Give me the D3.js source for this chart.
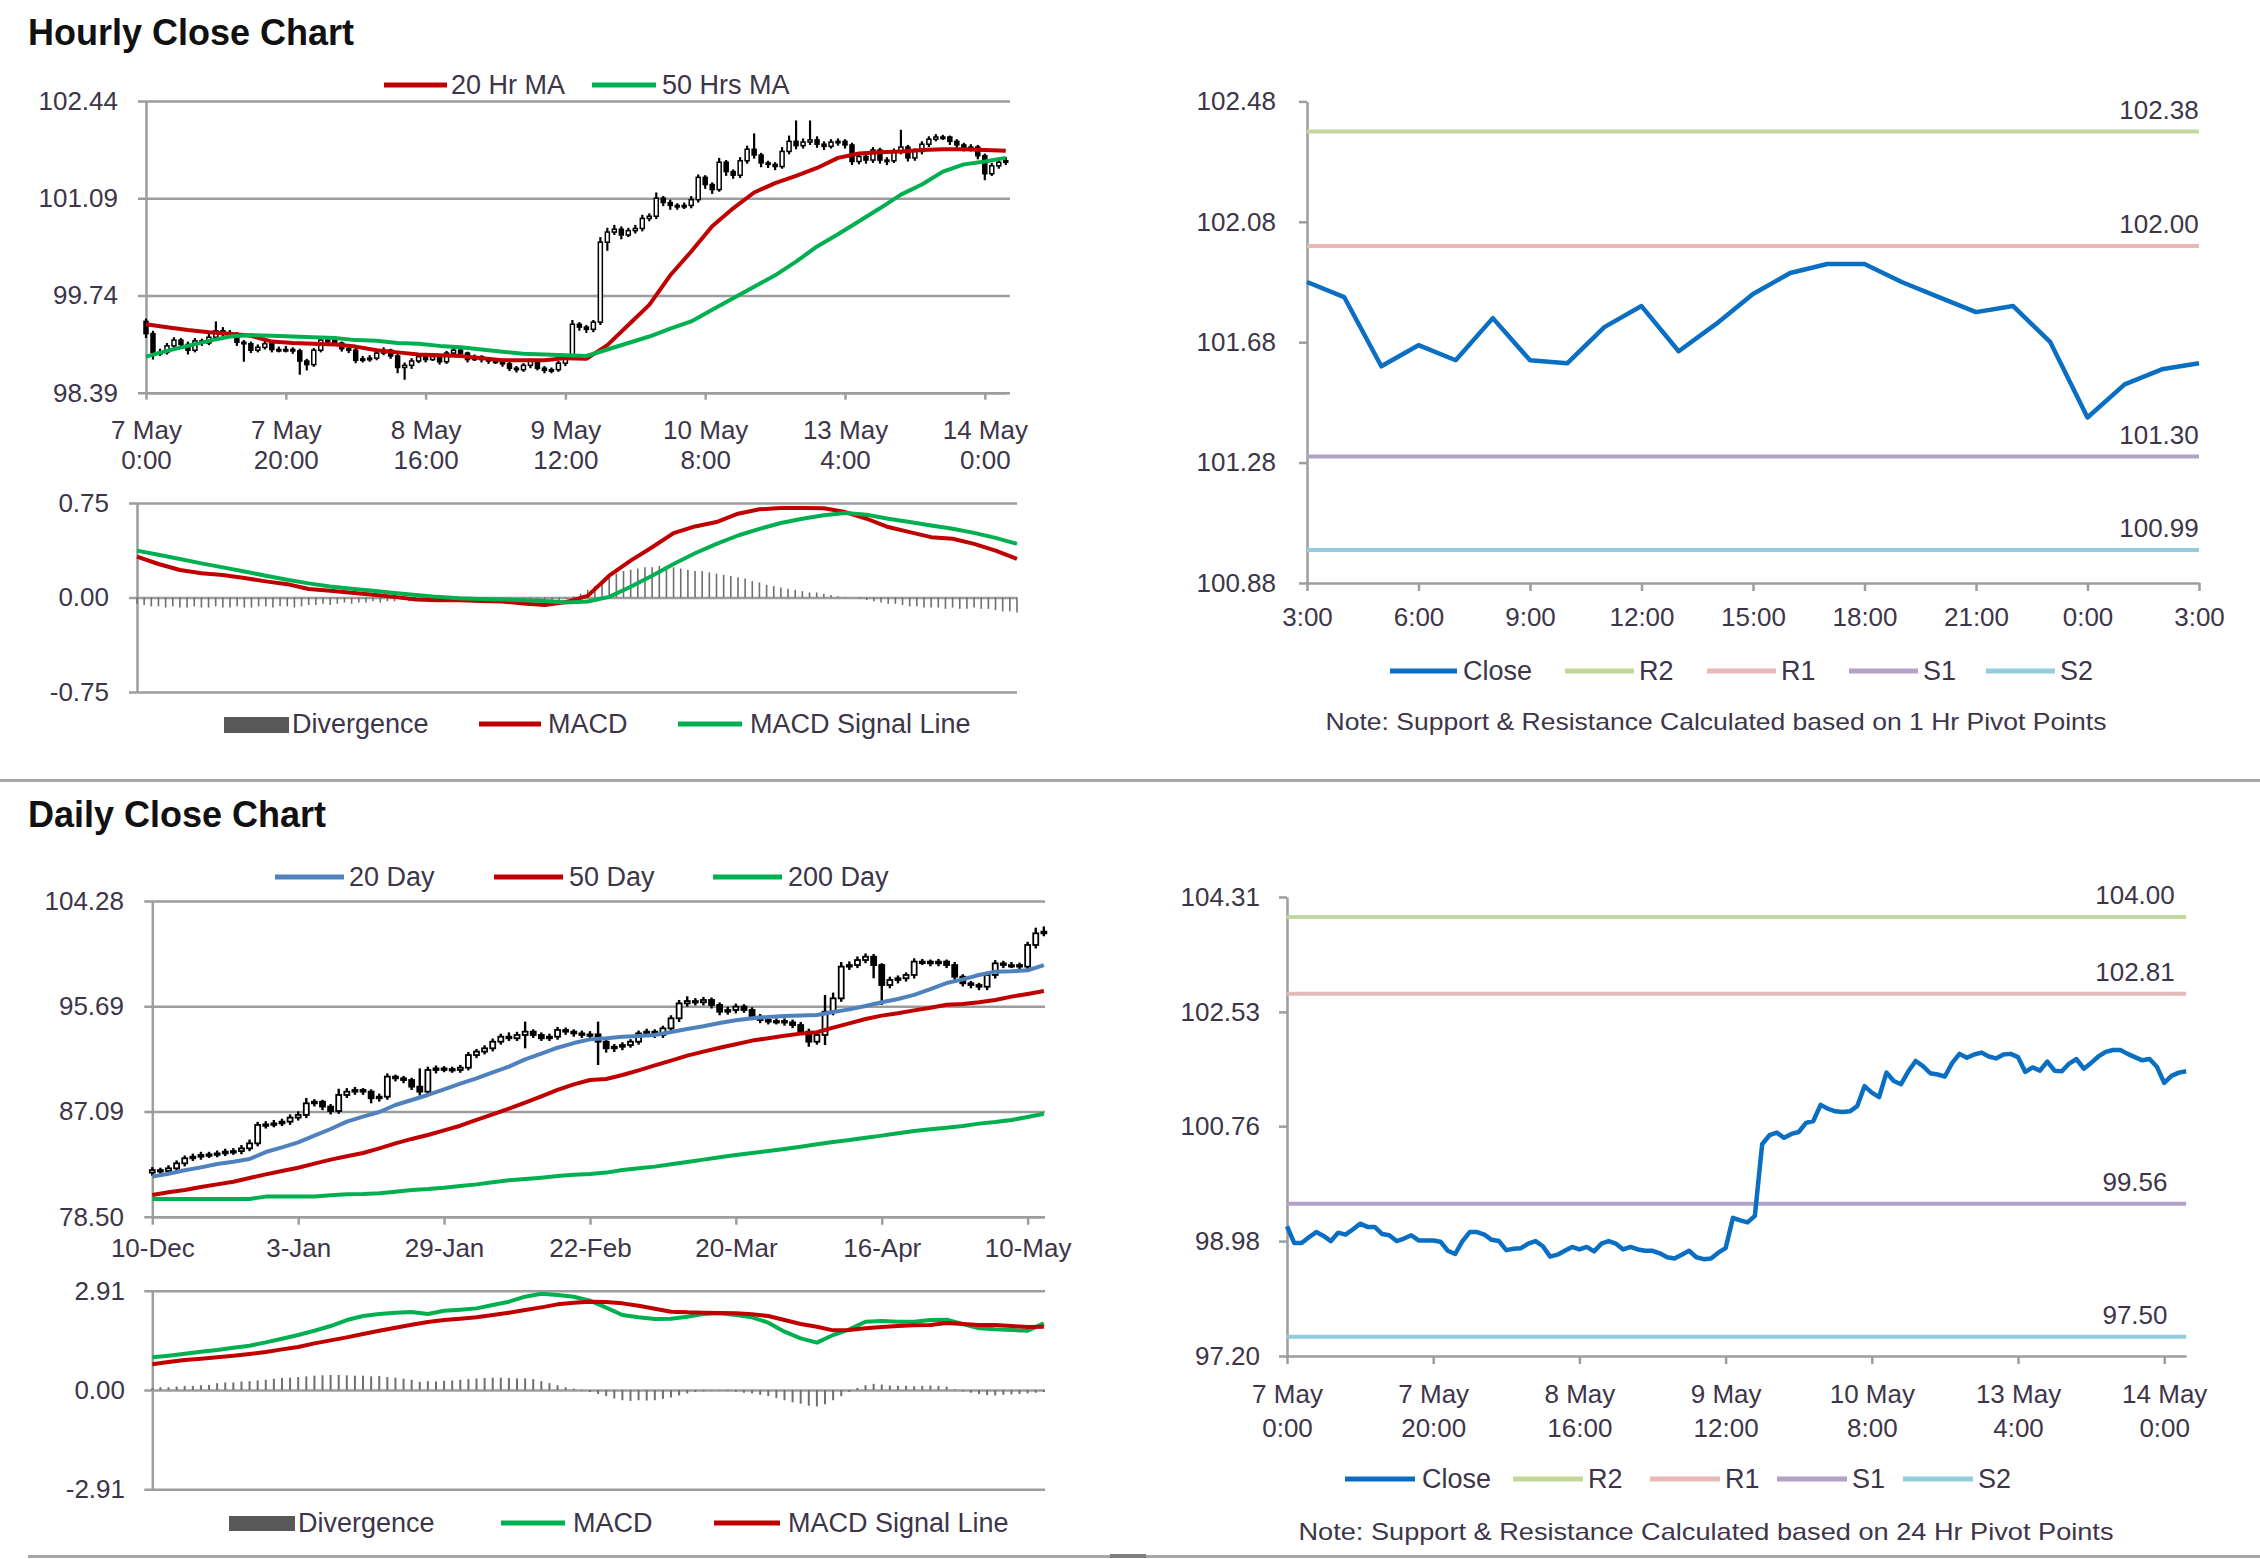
<!DOCTYPE html>
<html><head><meta charset="utf-8"><title>Hourly and Daily Close Charts</title>
<script src="https://cdnjs.cloudflare.com/ajax/libs/d3/7.8.5/d3.min.js"></script>
<style>html,body{margin:0;padding:0;background:#fff}svg{display:block}</style>
</head><body><svg id="c" width="2260" height="1559"></svg>
<script>
// ---------------- DATA ----------------
// Hourly bars: 7 May 0:00 (index 0) ... 14 May 3:00 (index 123)
const hourlyTickIdx = [0,20,40,60,80,100,120];
const hourlyTickDay = ["7 May","7 May","8 May","9 May","10 May","13 May","14 May"];
const hourlyTickTime = ["0:00","20:00","16:00","12:00","8:00","4:00","0:00"];
const hourlyYTicks = [98.39,99.74,101.09,102.44];
const hourlyMacdTicks = [-0.75,0,0.75];

const hourlyClose = [
99.21,98.95,98.95,99.04,99.12,99.06,98.98,99.11,99.08,99.16,
99.25,99.20,99.20,99.09,99.07,98.98,99.02,99.07,98.99,98.99,
98.99,98.97,98.83,98.78,98.98,99.12,99.12,99.08,99.00,98.98,
98.84,98.86,98.87,98.94,98.98,98.90,98.74,98.77,98.83,98.89,
98.85,98.89,98.82,98.94,98.98,98.94,98.85,98.89,98.85,98.83,
98.83,98.79,98.73,98.71,98.77,98.83,98.73,98.70,98.71,98.80,
98.87,99.34,99.30,99.27,99.37,100.48,100.62,100.66,100.58,100.64,
100.67,100.81,100.84,101.09,101.03,100.99,100.98,100.99,101.07,101.38,
101.28,101.21,101.59,101.46,101.41,101.61,101.77,101.69,101.58,101.56,
101.53,101.74,101.88,101.82,101.87,101.90,101.84,101.81,101.87,101.88,
101.83,101.60,101.67,101.62,101.76,101.62,101.61,101.73,101.80,101.65,
101.74,101.84,101.91,101.94,101.94,101.88,101.83,101.78,101.80,101.68,
101.43,101.54,101.59,101.61];
const hourlyOpen = [
99.38,99.21,98.95,98.95,99.04,99.12,99.06,98.98,99.11,99.08,
99.16,99.25,99.20,99.20,99.09,99.07,98.98,99.02,99.07,98.99,
98.99,98.99,98.97,98.83,98.78,98.98,99.12,99.12,99.08,99.00,
98.98,98.84,98.86,98.87,98.94,98.98,98.90,98.74,98.77,98.83,
98.89,98.85,98.89,98.82,98.94,98.98,98.94,98.85,98.89,98.85,
98.83,98.83,98.79,98.73,98.71,98.77,98.83,98.73,98.70,98.71,
98.80,98.87,99.34,99.30,99.27,99.37,100.48,100.62,100.66,100.58,
100.64,100.67,100.81,100.84,101.09,101.03,100.99,100.98,100.99,101.07,
101.38,101.28,101.21,101.59,101.46,101.41,101.61,101.77,101.69,101.58,
101.56,101.53,101.74,101.88,101.82,101.87,101.90,101.84,101.81,101.87,
101.88,101.83,101.60,101.67,101.62,101.76,101.62,101.61,101.73,101.80,
101.65,101.74,101.84,101.91,101.94,101.94,101.88,101.83,101.78,101.80,
101.68,101.43,101.54,101.59];
const hourlyHigh = [
99.42,99.25,99.00,99.08,99.16,99.15,99.10,99.15,99.14,99.24,
99.38,99.30,99.26,99.23,99.12,99.10,99.06,99.11,99.10,99.03,
99.04,99.02,99.00,98.86,99.01,99.16,99.16,99.14,99.10,99.04,
99.01,98.90,98.91,98.97,99.02,99.00,98.93,98.81,98.87,98.93,
98.92,98.93,98.91,98.97,99.03,99.00,98.96,98.92,98.91,98.88,
98.86,98.85,98.82,98.76,98.80,98.86,98.85,98.76,98.74,98.83,
98.90,99.40,99.37,99.33,99.40,100.55,100.68,100.72,100.70,100.68,
100.72,100.86,100.88,101.17,101.12,101.07,101.02,101.03,101.12,101.42,
101.41,101.31,101.65,101.62,101.49,101.66,101.82,101.99,101.72,101.61,
101.59,101.80,101.96,102.17,101.92,102.17,101.95,101.88,101.91,101.92,
101.91,101.86,101.72,101.70,101.80,101.79,101.66,101.78,102.04,101.83,
101.78,101.88,101.95,101.98,101.97,101.96,101.91,101.86,101.84,101.83,
101.71,101.58,101.63,101.66];
const hourlyLow = [
99.15,98.85,98.90,98.92,99.00,99.02,98.92,98.95,99.04,99.05,
99.13,99.16,99.15,99.04,98.82,98.94,98.95,98.99,98.95,98.95,
98.95,98.93,98.64,98.70,98.75,98.95,99.08,99.05,98.96,98.94,
98.80,98.81,98.82,98.84,98.91,98.86,98.66,98.57,98.72,98.80,
98.81,98.83,98.78,98.79,98.91,98.90,98.81,98.83,98.81,98.79,
98.79,98.75,98.69,98.67,98.68,98.73,98.70,98.66,98.66,98.68,
98.76,98.85,99.25,99.22,99.23,99.33,100.36,100.58,100.52,100.55,
100.60,100.63,100.77,100.80,100.98,100.93,100.93,100.94,100.95,101.03,
101.22,101.15,101.18,101.40,101.36,101.37,101.57,101.64,101.52,101.51,
101.48,101.50,101.70,101.77,101.78,101.83,101.79,101.76,101.78,101.82,
101.78,101.55,101.56,101.57,101.58,101.57,101.55,101.58,101.70,101.60,
101.61,101.70,101.80,101.88,101.90,101.83,101.79,101.74,101.74,101.63,
101.34,101.40,101.50,101.55];
// moving averages and MACD read every 3rd hour (index 0,3,...,123)
const hourlyStep = 3;
const hourlyMA20 = [
99.34,99.30,99.26,99.23,99.21,99.18,99.10,99.08,99.07,99.06,
99.03,98.98,98.95,98.92,98.91,98.90,98.87,98.84,98.84,98.84,
98.87,98.86,99.05,99.33,99.61,100.02,100.35,100.70,100.95,101.17,
101.30,101.40,101.51,101.65,101.71,101.73,101.74,101.76,101.77,101.77,
101.76,101.75];
const hourlyMA50 = [
98.89,98.97,99.04,99.11,99.17,99.19,99.18,99.17,99.16,99.15,
99.12,99.11,99.08,99.07,99.04,99.02,98.99,98.96,98.93,98.92,
98.91,98.90,98.99,99.08,99.17,99.28,99.38,99.54,99.70,99.86,
100.02,100.21,100.42,100.59,100.77,100.95,101.14,101.28,101.46,101.56,
101.60,101.65];
const hourlyMacd = [
0.324,0.266,0.218,0.192,0.178,0.154,0.128,0.106,0.067,0.053,
0.037,0.021,0.005,-0.016,-0.021,-0.021,-0.027,-0.032,-0.048,-0.060,
-0.035,0.013,0.173,0.293,0.399,0.511,0.564,0.599,0.665,0.700,
0.710,0.710,0.708,0.678,0.625,0.559,0.519,0.479,0.466,0.426,
0.372,0.306];
const hourlySignal = [
0.372,0.340,0.306,0.271,0.239,0.207,0.173,0.141,0.112,0.088,
0.069,0.053,0.035,0.019,0.005,-0.005,-0.011,-0.016,-0.021,-0.027,
-0.040,-0.032,0.005,0.085,0.173,0.266,0.351,0.426,0.492,0.545,
0.591,0.625,0.652,0.670,0.657,0.625,0.599,0.572,0.545,0.513,
0.473,0.426];
const hourlyDivergence = [
-0.05,-0.06,-0.07,-0.07,-0.08,-0.07,-0.08,-0.08,-0.07,-0.08,
-0.08,-0.07,-0.08,-0.08,-0.07,-0.08,-0.08,-0.07,-0.07,-0.08,
-0.07,-0.07,-0.08,-0.07,-0.06,-0.06,-0.05,-0.06,-0.05,-0.04,
-0.05,-0.04,-0.04,-0.03,-0.04,-0.03,-0.03,-0.02,-0.03,-0.02,
-0.02,-0.02,-0.01,-0.02,-0.02,-0.01,-0.02,-0.02,-0.01,-0.02,
-0.02,-0.02,-0.03,-0.02,-0.03,-0.03,-0.03,-0.04,-0.03,-0.02,
-0.01,0.01,0.03,0.06,0.09,0.13,0.16,0.19,0.21,0.22,
0.23,0.24,0.24,0.25,0.24,0.24,0.23,0.22,0.21,0.21,
0.20,0.19,0.18,0.17,0.16,0.15,0.13,0.12,0.10,0.09,
0.08,0.07,0.06,0.05,0.04,0.04,0.03,0.02,0.01,0.005,
0.00,-0.01,-0.02,-0.03,-0.04,-0.05,-0.05,-0.06,-0.07,-0.07,
-0.08,-0.08,-0.08,-0.09,-0.08,-0.09,-0.09,-0.08,-0.09,-0.09,
-0.10,-0.11,-0.11,-0.12];

// last 24 hours pivot chart (13 May 3:00 .. 14 May 3:00 = hourly index 99..123)
const pivotHourStart = 99;
const pivotHourTicks = ["3:00","6:00","9:00","12:00","15:00","18:00","21:00","0:00","3:00"];
const pivotHourYTicks = [100.88,101.28,101.68,102.08,102.48];
const pivotNames = ["R2","R1","S1","S2"];
const pivotHourValues = [102.38,102.00,101.30,100.99];
const pivotDayValues = [104.00,102.81,99.56,97.50];
const pivotDayYTicks = [97.20,98.98,100.76,102.53,104.31];

// Daily bars: 10-Dec (index 0) ... (index 110)
const dailyTickIdx = [0,18,36,54,72,90,108];
const dailyTickLabels = ["10-Dec","3-Jan","29-Jan","22-Feb","20-Mar","16-Apr","10-May"];
const dailyYTicks = [78.50,87.09,95.69,104.28];
const dailyMacdTicks = [-2.91,0,2.91];
const dailyClose = [
82.31,82.23,82.45,82.86,83.27,83.40,83.54,83.59,83.67,83.81,
83.86,84.08,84.49,85.99,86.04,86.12,86.26,86.59,86.81,87.76,
87.89,87.49,87.13,88.44,88.71,88.85,88.71,88.17,88.30,89.94,
89.80,89.66,89.12,88.71,90.48,90.61,90.56,90.48,90.67,91.70,
91.98,92.25,92.79,93.20,93.07,93.34,93.61,93.34,93.07,93.20,
93.75,93.61,93.47,93.34,93.39,92.79,92.25,92.38,92.52,92.79,
93.47,93.61,93.34,93.88,94.70,95.92,96.11,96.01,96.20,95.79,
95.24,95.38,95.65,95.38,94.83,94.56,94.43,94.48,94.37,94.15,
93.61,92.79,93.34,95.24,96.33,98.92,99.05,99.46,99.73,99.05,
97.42,97.83,97.97,98.24,99.33,99.33,99.19,99.33,99.05,98.10,
97.56,97.42,97.28,98.24,99.19,99.05,99.05,98.92,100.69,101.64,
101.78];
const dailyOpen = [
82.10,82.31,82.23,82.45,82.86,83.27,83.40,83.54,83.59,83.67,
83.81,83.86,84.08,84.49,85.99,86.04,86.12,86.26,86.59,86.81,
87.76,87.89,87.49,87.13,88.44,88.71,88.85,88.71,88.17,88.30,
89.94,89.80,89.66,89.12,88.71,90.48,90.61,90.56,90.48,90.67,
91.70,91.98,92.25,92.79,93.20,93.07,93.34,93.61,93.34,93.07,
93.20,93.75,93.61,93.47,93.34,93.39,92.79,92.25,92.38,92.52,
92.79,93.47,93.61,93.34,93.88,94.70,95.92,96.11,96.01,96.20,
95.79,95.24,95.38,95.65,95.38,94.83,94.56,94.43,94.48,94.37,
94.15,93.61,92.79,93.34,95.24,96.33,98.92,99.05,99.46,99.73,
99.05,97.42,97.83,97.97,98.24,99.33,99.33,99.19,99.33,99.05,
98.10,97.56,97.42,97.28,98.24,99.19,99.05,99.05,98.92,100.69,
101.64];
const dailyHigh = [
82.55,82.50,82.70,83.10,83.50,83.65,83.80,83.80,83.90,84.05,
84.10,84.35,84.80,86.25,86.30,86.40,86.50,86.85,87.10,88.20,
88.10,88.05,87.70,88.95,89.00,89.10,89.00,88.90,88.55,90.20,
90.10,90.00,89.85,90.61,90.75,90.85,90.80,90.75,90.90,91.95,
92.20,92.50,93.05,93.45,93.55,93.60,94.43,93.80,93.55,93.45,
94.00,93.95,93.80,93.70,93.65,94.43,93.00,92.60,92.75,93.00,
93.70,93.85,93.80,94.10,94.95,96.20,96.50,96.35,96.45,96.40,
96.00,95.65,95.90,95.85,95.60,95.05,94.80,94.70,94.70,94.60,
94.40,93.85,93.60,96.60,96.80,99.30,99.35,99.75,100.00,99.95,
99.20,98.10,98.20,98.45,99.60,99.55,99.50,99.55,99.50,99.30,
98.30,97.75,97.60,98.50,99.45,99.40,99.30,99.25,100.95,102.10,
102.20];
const dailyLow = [
81.85,81.95,82.00,82.20,82.60,83.05,83.15,83.30,83.35,83.45,
83.55,83.60,83.85,84.25,85.70,85.80,85.90,86.00,86.35,86.55,
87.50,87.20,86.85,86.90,88.20,88.45,88.45,87.76,87.90,88.05,
89.55,89.40,88.85,88.40,88.50,90.20,90.30,90.25,90.25,90.45,
91.45,91.75,92.00,92.55,92.85,92.85,92.25,93.10,92.85,92.85,
92.95,93.35,93.20,93.10,93.10,90.89,91.90,91.95,92.10,92.30,
92.55,93.20,93.10,93.10,93.60,94.40,95.65,95.75,95.75,95.50,
94.95,95.00,95.10,95.15,94.55,94.30,94.20,94.20,94.10,93.90,
93.35,92.38,92.55,92.52,94.95,96.05,98.65,98.80,99.20,97.97,
95.80,97.15,97.55,97.70,97.95,99.05,98.95,98.95,98.80,97.85,
97.30,97.15,97.00,97.00,97.95,98.80,98.80,98.65,98.65,100.40,
101.40];
// moving averages and MACD read every 2nd day (index 0,2,...,110)
const dailyStep = 2;
const dailyMA20 = [
81.77,82.01,82.29,82.53,82.80,82.99,83.21,83.78,84.16,84.57,
85.12,85.66,86.26,86.67,87.05,87.62,88.03,88.44,88.90,89.36,
89.80,90.29,90.75,91.35,91.81,92.30,92.68,92.98,93.07,93.20,
93.26,93.34,93.58,93.83,94.05,94.32,94.54,94.70,94.81,94.89,
94.94,94.97,95.22,95.43,95.71,96.01,96.28,96.61,97.09,97.58,
97.88,98.24,98.51,98.54,98.62,99.05];
const dailyMA50 = [
80.27,80.49,80.68,80.93,81.14,81.36,81.66,81.96,82.23,82.50,
82.83,83.16,83.43,83.70,84.08,84.49,84.85,85.17,85.55,85.93,
86.40,86.86,87.32,87.81,88.33,88.85,89.31,89.66,89.75,90.07,
90.45,90.86,91.24,91.65,91.98,92.30,92.58,92.88,93.07,93.28,
93.45,93.56,93.94,94.29,94.64,94.92,95.11,95.35,95.57,95.81,
95.87,96.01,96.20,96.47,96.69,96.93];
const dailyMA200 = [
79.95,79.95,79.95,79.95,79.95,79.95,79.95,80.14,80.14,80.14,
80.14,80.25,80.33,80.35,80.41,80.54,80.68,80.76,80.87,81.01,
81.14,81.31,81.47,81.58,81.69,81.82,81.93,81.99,82.10,82.31,
82.45,82.59,82.78,82.97,83.16,83.35,83.54,83.70,83.86,84.03,
84.22,84.41,84.60,84.76,84.95,85.12,85.31,85.50,85.64,85.77,
85.91,86.10,86.23,86.40,86.64,86.91];
const dailyMacd = [
0.957,1.006,1.064,1.123,1.172,1.240,1.299,1.396,1.504,1.611,
1.738,1.875,2.051,2.168,2.226,2.266,2.285,2.226,2.324,2.353,
2.392,2.490,2.588,2.734,2.822,2.783,2.734,2.617,2.412,2.197,
2.129,2.080,2.090,2.148,2.226,2.246,2.197,2.129,1.973,1.709,
1.514,1.387,1.611,1.777,2.002,2.021,2.002,2.002,2.051,2.060,
1.934,1.807,1.777,1.758,1.738,1.953];
const dailySignal = [
0.752,0.820,0.879,0.918,0.957,1.006,1.055,1.113,1.191,1.260,
1.367,1.455,1.543,1.641,1.738,1.826,1.914,1.992,2.051,2.090,
2.129,2.197,2.266,2.344,2.422,2.510,2.558,2.588,2.578,2.539,
2.471,2.383,2.295,2.275,2.266,2.256,2.246,2.217,2.168,2.051,
1.934,1.855,1.748,1.758,1.807,1.846,1.875,1.895,1.904,1.963,
1.934,1.904,1.904,1.875,1.846,1.855];
const dailyDivergence = [
0.05,0.08,0.08,0.10,0.12,0.12,0.14,0.15,0.20,0.22,
0.22,0.25,0.26,0.28,0.30,0.33,0.35,0.36,0.38,0.40,
0.42,0.43,0.44,0.44,0.43,0.42,0.42,0.40,0.41,0.38,
0.36,0.33,0.30,0.24,0.26,0.25,0.27,0.28,0.30,0.32,
0.34,0.35,0.36,0.36,0.35,0.34,0.34,0.32,0.26,0.20,
0.14,0.08,0.04,-0.02,-0.06,-0.12,-0.18,-0.25,-0.30,-0.32,
-0.30,-0.31,-0.30,-0.26,-0.22,-0.16,-0.10,-0.06,-0.04,-0.02,
-0.02,-0.03,-0.05,-0.08,-0.10,-0.14,-0.18,-0.24,-0.30,-0.36,
-0.40,-0.46,-0.48,-0.42,-0.30,-0.18,-0.06,0.06,0.14,0.18,
0.16,0.13,0.12,0.12,0.11,0.12,0.13,0.12,0.10,0.02,
-0.04,-0.08,-0.12,-0.15,-0.16,-0.14,-0.13,-0.12,-0.10,-0.08,
-0.06];

// ---------------- DRAWING ----------------
const svg = d3.select("#c");
const FONT = "'Liberation Sans', Arial, Helvetica, sans-serif";
const LBL = "#3d3548", GRID = "#9d9d9d";
const RED = "#c00000", GREEN = "#00b050", BLUE20 = "#4f81bd", CLOSEBLUE = "#0a6fc2";
const PIVOT_COLORS = ["#c3d69b","#e6b9b8","#b3a2c7","#93cddd"];
const fmt2 = d => d.toFixed(2);

svg.append("rect").attr("width",2260).attr("height",1559).attr("fill","#fff");

function styleAx(g) {
  g.attr("font-family", FONT).attr("font-size", 26);
  g.selectAll("path.domain").attr("stroke", GRID).attr("stroke-width", 2.5);
  g.selectAll(".tick line").attr("stroke", GRID).attr("stroke-width", 2.5);
  g.selectAll(".tick text").attr("fill", LBL);
}
function yAxis(scale, ticks, x, labelRight, gridRight) {
  const g = svg.append("g").attr("transform", `translate(${x},0)`);
  const ax = d3.axisLeft(scale).tickValues(ticks).tickFormat(fmt2).tickSizeOuter(0);
  if (gridRight) ax.tickSizeInner(-(gridRight - x)).tickPadding(x - labelRight);
  else ax.tickSizeInner(8).tickPadding(x - labelRight - 8);
  g.call(ax);
  if (gridRight) g.selectAll(".tick line").attr("x1", -8);
  styleAx(g);
  return g;
}
function xAxis(scale, ticks, y, size, lines, offs) {
  const g = svg.append("g").attr("transform", `translate(0,${y})`);
  g.call(d3.axisBottom(scale).tickValues(ticks).tickSize(size).tickSizeOuter(0).tickFormat(""));
  styleAx(g);
  if (lines) {
    g.selectAll(".tick").each(function(d, i) {
      const t = d3.select(this);
      lines.forEach((arr, li) => t.append("text").attr("y", offs[li]).attr("text-anchor", "middle")
        .attr("fill", LBL).text(arr[i]));
    });
  }
  return g;
}
function candles(xs, ys, O, H, L, C, bw, ww, sw) {
  const sel = svg.append("g").selectAll("g").data(C).join("g");
  sel.append("line").attr("x1", (d, i) => xs(i)).attr("x2", (d, i) => xs(i))
    .attr("y1", (d, i) => ys(H[i])).attr("y2", (d, i) => ys(L[i]))
    .attr("stroke", "#000").attr("stroke-width", ww);
  sel.append("rect").attr("x", (d, i) => xs(i) - bw / 2).attr("width", bw)
    .attr("y", (d, i) => ys(Math.max(O[i], d)))
    .attr("height", (d, i) => Math.max(1.5, Math.abs(ys(O[i]) - ys(d))))
    .attr("fill", (d, i) => d >= O[i] ? "#fff" : "#000").attr("stroke", "#000").attr("stroke-width", sw);
}
function series(xs, ys, vals, step, color, w) {
  svg.append("path").datum(vals).attr("fill", "none").attr("stroke", color).attr("stroke-width", w)
    .attr("stroke-linejoin", "round")
    .attr("d", d3.line().x((d, k) => xs(k * step)).y(d => ys(d)));
}
function bars(xs, ys, vals, w, color) {
  svg.append("g").selectAll("line").data(vals).join("line")
    .attr("x1", (d, i) => xs(i)).attr("x2", (d, i) => xs(i))
    .attr("y1", ys(0)).attr("y2", d => ys(d)).attr("stroke", color).attr("stroke-width", w);
}
function pivots(xs, ys, x0, x1, vals, labelX) {
  svg.append("g").selectAll("line").data(vals).join("line")
    .attr("x1", xs(x0)).attr("x2", xs(x1)).attr("y1", d => ys(d)).attr("y2", d => ys(d))
    .attr("stroke", (d, i) => PIVOT_COLORS[i]).attr("stroke-width", 4);
  svg.append("g").selectAll("text").data(vals).join("text")
    .attr("x", labelX).attr("y", d => ys(d) - 13).attr("text-anchor", "middle")
    .attr("font-family", FONT).attr("font-size", 26).attr("fill", LBL).text(fmt2);
}
function legLine(x1, x2, y, color, w) {
  svg.append("line").attr("x1", x1).attr("x2", x2).attr("y1", y).attr("y2", y)
    .attr("stroke", color).attr("stroke-width", w || 5);
}
function legRect(x1, x2, y1, y2) {
  svg.append("rect").attr("x", x1).attr("y", y1).attr("width", x2 - x1).attr("height", y2 - y1).attr("fill", "#595959");
}
function txt(x, y, s, fs, opts) {
  const t = svg.append("text").attr("x", x).attr("y", y).attr("font-family", FONT)
    .attr("font-size", fs || 27).attr("fill", (opts && opts.fill) || LBL).text(s);
  if (opts && opts.bold) t.attr("font-weight", "bold");
  if (opts && opts.anchor) t.attr("text-anchor", opts.anchor);
  if (opts && opts.len) t.attr("textLength", opts.len).attr("lengthAdjust", "spacingAndGlyphs");
  return t;
}

// ===== Titles and separators =====
txt(28, 45, "Hourly Close Chart", 36, {bold: true, fill: "#111"});
txt(28, 827, "Daily Close Chart", 36, {bold: true, fill: "#111"});
svg.append("rect").attr("x", 0).attr("y", 779).attr("width", 2260).attr("height", 3).attr("fill", "#a6a6a6");
svg.append("rect").attr("x", 28).attr("y", 1555).attr("width", 2232).attr("height", 3).attr("fill", "#a6a6a6");
svg.append("rect").attr("x", 1110).attr("y", 1554).attr("width", 36).attr("height", 4).attr("fill", "#7f7f7f");

// ===== Hourly candle chart =====
const hx = d3.scaleLinear().domain([0, 123]).range([146, 146 + 123 * 6.99]);
const hy = d3.scaleLinear().domain([98.39, 102.44]).range([392.7, 101]);
yAxis(hy, hourlyYTicks, 146, 118, 1010);
xAxis(hx, hourlyTickIdx, 392.7, 7, [hourlyTickDay, hourlyTickTime], [46, 76]);
candles(hx, hy, hourlyOpen, hourlyHigh, hourlyLow, hourlyClose, 4, 2.2, 1.5);
series(hx, hy, hourlyMA20, hourlyStep, RED, 4);
series(hx, hy, hourlyMA50, hourlyStep, GREEN, 4);
legLine(384, 447, 85, RED); txt(451, 94, "20 Hr MA");
legLine(592, 656, 85, GREEN); txt(662, 94, "50 Hrs MA");

// ===== Hourly MACD =====
const hmx = d3.scaleLinear().domain([0, 123]).range([137, 1017]);
const hmy = d3.scaleLinear().domain([-0.75, 0.75]).range([692, 503]);
yAxis(hmy, hourlyMacdTicks, 137, 109, 1017);
bars(hmx, hmy, hourlyDivergence, 1.6, "#6f6f6f");
series(hmx, hmy, hourlyMacd, hourlyStep, RED, 4);
series(hmx, hmy, hourlySignal, hourlyStep, GREEN, 4);
legRect(224, 289, 717, 733); txt(292, 733, "Divergence");
legLine(479, 541, 724, RED); txt(548, 733, "MACD");
legLine(678, 742, 724, GREEN); txt(750, 733, "MACD Signal Line");

// ===== Hourly pivot chart (last 24h) =====
const px = d3.scaleLinear().domain([0, 24]).range([1307, 2199]);
const py = d3.scaleLinear().domain([100.88, 102.48]).range([583, 101.4]);
yAxis(py, pivotHourYTicks, 1307, 1276, null);
xAxis(px, d3.range(0, 25, 3), 583, 8, [pivotHourTicks], [43]);
pivots(px, py, 0, 24, pivotHourValues, 2159);
series(px, py, hourlyClose.slice(pivotHourStart), 1, CLOSEBLUE, 4.5);
legLine(1390, 1457, 671, CLOSEBLUE, 5); txt(1463, 680, "Close");
pivotNames.forEach((n, i) => {
  const xs = [1565, 1707, 1849, 1986][i];
  legLine(xs, xs + 69, 671, PIVOT_COLORS[i], 5); txt(xs + 74, 680, n);
});
txt(1716, 730, "Note: Support & Resistance Calculated based on 1 Hr Pivot Points", 24, {anchor: "middle", len: 781});

// ===== Daily candle chart =====
const dx = d3.scaleLinear().domain([0, 110]).range([152.3, 152.3 + 110 * 8.105]);
const dy = d3.scaleLinear().domain([78.50, 104.28]).range([1216.7, 901]);
yAxis(dy, dailyYTicks, 152.3, 124, 1045);
xAxis(dx, dailyTickIdx, 1216.7, 8, [dailyTickLabels], [40]);
candles(dx, dy, dailyOpen, dailyHigh, dailyLow, dailyClose, 5, 2.4, 1.8);
series(dx, dy, dailyMA20, dailyStep, BLUE20, 4);
series(dx, dy, dailyMA50, dailyStep, RED, 4);
series(dx, dy, dailyMA200, dailyStep, GREEN, 4);
legLine(275, 344, 877, BLUE20); txt(349, 886, "20 Day");
legLine(494, 563, 877, RED); txt(569, 886, "50 Day");
legLine(713, 782, 877, GREEN); txt(788, 886, "200 Day");

// ===== Daily MACD =====
const dmy = d3.scaleLinear().domain([-2.91, 2.91]).range([1489.3, 1290.7]);
yAxis(dmy, dailyMacdTicks, 152.3, 125, 1045);
bars(dx, dmy, dailyDivergence, 2, "#6f6f6f");
series(dx, dmy, dailyMacd, dailyStep, GREEN, 4);
series(dx, dmy, dailySignal, dailyStep, RED, 4);
legRect(229, 295, 1516, 1531); txt(298, 1532, "Divergence");
legLine(501, 565, 1523, GREEN); txt(573, 1532, "MACD");
legLine(714, 780, 1523, RED); txt(788, 1532, "MACD Signal Line");

// ===== Hourly close with daily pivots =====
const bx = d3.scaleLinear().domain([0, 123]).range([1287, 1287 + 123 * 7.31]);
const by = d3.scaleLinear().domain([97.20, 104.31]).range([1356, 897]);
yAxis(by, pivotDayYTicks, 1287, 1260, null);
xAxis(bx, hourlyTickIdx, 1356, 8, [hourlyTickDay, hourlyTickTime], [47, 81]);
pivots(bx, by, 0, 123, pivotDayValues, 2135);
series(bx, by, hourlyClose, 1, CLOSEBLUE, 4.5);
legLine(1345, 1415, 1479, CLOSEBLUE, 5); txt(1422, 1488, "Close");
pivotNames.forEach((n, i) => {
  const xs = [1513, 1650, 1777, 1903][i];
  legLine(xs, xs + 70, 1479, PIVOT_COLORS[i], 5); txt(xs + 75, 1488, n);
});
txt(1706, 1540, "Note: Support & Resistance Calculated based on 24 Hr Pivot Points", 24, {anchor: "middle", len: 815});
</script></body></html>
